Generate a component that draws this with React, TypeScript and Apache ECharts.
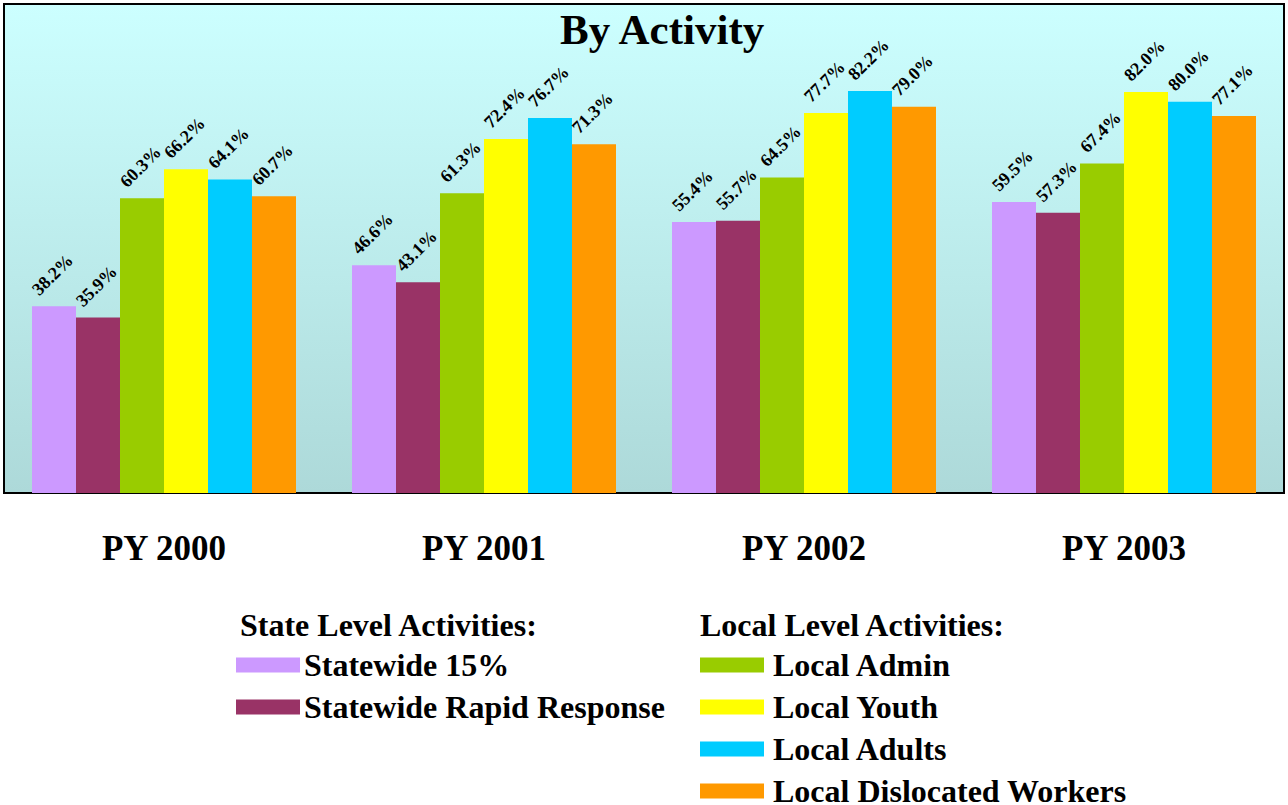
import React, { useEffect, useRef } from "react";
import * as echarts from "echarts";

const categories = ["PY 2000", "PY 2001", "PY 2002", "PY 2003"];
const statewide15 = [38.2, 46.6, 55.4, 59.5];
const statewideRapid = [35.9, 43.1, 55.7, 57.3];
const localAdmin = [60.3, 61.3, 64.5, 67.4];
const localYouth = [66.2, 72.4, 77.7, 82.0];
const localAdults = [64.1, 76.7, 82.2, 80.0];
const localDislocated = [60.7, 71.3, 79.0, 77.1];

const seriesNames = [
  "Statewide 15%",
  "Statewide Rapid Response",
  "Local Admin",
  "Local Youth",
  "Local Adults",
  "Local Dislocated Workers",
];
const seriesValues = [statewide15, statewideRapid, localAdmin, localYouth, localAdults, localDislocated];
const seriesColors = ["#CC99FF", "#993366", "#99CC00", "#FFFF00", "#00CCFF", "#FF9900"];
// legend column (0 = state level, 1 = local level) and row of each series
const legendColumn = [0, 0, 1, 1, 1, 1];
const legendRow = [0, 1, 0, 1, 2, 3];

const FONT = "'Liberation Serif', 'Times New Roman', serif";

export default function App() {
  const ref = useRef<HTMLDivElement>(null);
  useEffect(() => {
    if (!ref.current) return;
    const chart = echarts.init(ref.current, undefined, { renderer: "svg" });
    const legendText = {
      fontFamily: FONT,
      fontWeight: "bold" as const,
      fontSize: 32,
      color: "#000",
    };
    chart.setOption({
      animation: false,
      backgroundColor: "#FFFFFF",
      title: {
        text: "By Activity",
        left: 555,
        top: 3,
        textStyle: { fontFamily: FONT, fontWeight: "bold", fontSize: 43, color: "#000" },
      },
      grid: {
        left: 4,
        top: 4,
        width: 1280,
        height: 489,
        show: true,
        borderColor: "#000",
        borderWidth: 2,
        backgroundColor: {
          type: "linear",
          x: 0,
          y: 0,
          x2: 0,
          y2: 1,
          colorStops: [
            { offset: 0, color: "#CCFFFF" },
            { offset: 1, color: "#ADD9D9" },
          ],
        },
      },
      xAxis: {
        type: "category",
        data: categories,
        axisLine: { show: false },
        axisTick: { show: false },
        axisLabel: {
          margin: 38,
          fontFamily: FONT,
          fontWeight: "bold",
          fontSize: 35,
          color: "#000",
        },
      },
      yAxis: {
        type: "value",
        min: 0,
        max: 100,
        show: false,
        splitLine: { show: false },
      },
      legend: seriesNames.map((name, i) => ({
        data: [name],
        orient: "vertical",
        left: legendColumn[i] === 0 ? 236 : 700,
        top: 649 + legendRow[i] * 42,
        padding: 0,
        itemWidth: 64,
        itemHeight: 15,
        icon: "rect",
        selectedMode: false,
        textStyle: { ...legendText, padding: [0, 0, 0, legendColumn[i] === 0 ? -1 : 4] },
      })),
      graphic: [
        {
          type: "text",
          left: 240,
          top: 609,
          style: { text: "State Level Activities:", font: `bold 32px ${FONT}`, fill: "#000" },
        },
        {
          type: "text",
          left: 700,
          top: 609,
          style: { text: "Local Level Activities:", font: `bold 32px ${FONT}`, fill: "#000" },
        },
      ],
      series: seriesNames.map((name, i) => ({
        name,
        type: "bar",
        data: seriesValues[i],
        barGap: "0%",
        barCategoryGap: "17.5%",
        itemStyle: { color: seriesColors[i] },
        label: {
          show: true,
          position: [3, -14],
          rotate: 45,
          align: "left",
          verticalAlign: "middle",
          fontFamily: FONT,
          fontWeight: "bold",
          fontSize: 18,
          color: "#000",
          formatter: (p: any) => Number(p.value).toFixed(1) + "%",
        },
      })),
    });
    return () => chart.dispose();
  }, []);
  return (
    <div
      ref={ref}
      style={{ position: "fixed", left: 0, top: 0, width: 1288, height: 805 }}
    />
  );
}
